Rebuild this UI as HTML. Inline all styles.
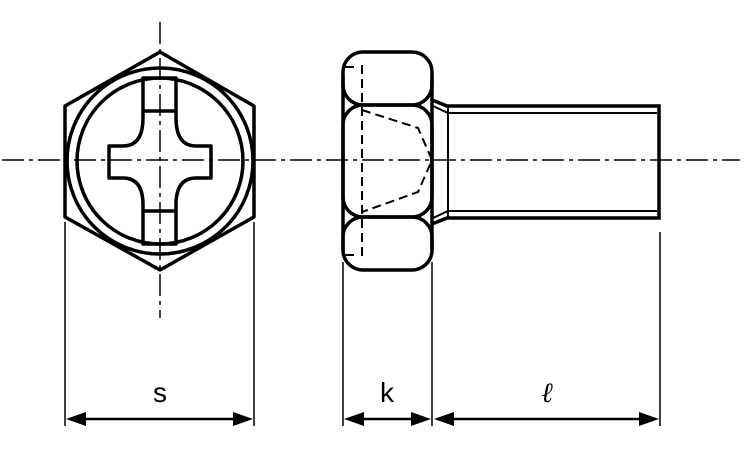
<!DOCTYPE html>
<html><head><style>body{margin:0;background:#fff}svg{display:block}</style></head><body>
<svg width="750" height="450" viewBox="0 0 750 450" xmlns="http://www.w3.org/2000/svg" fill="none" stroke="#000">
<!-- center lines -->
<g stroke-width="1.5" stroke-dasharray="22,5,4,5">
<line x1="160" y1="22" x2="160" y2="318"/>
<line x1="2" y1="160" x2="740" y2="160"/>
</g>
<!-- left view -->
<g stroke-width="3.5" stroke-linejoin="round">
<polygon points="160,52 254,106 254,217 160,270 65,217 65,106"/>
<circle cx="160" cy="161" r="93"/>
<circle cx="160" cy="161" r="83"/>
<path d="M143,78 H176 V118 Q176,146 196,146 H211 V178 H196 Q176,178 176,205 V244 H143 V205 Q143,178 123,178 H109 V146 H123 Q143,146 143,118 Z"/>
<line x1="143" y1="111" x2="176" y2="111"/>
<line x1="143" y1="211" x2="176" y2="211"/>
</g>
<!-- right view head -->
<g stroke-width="3.5">
<rect x="343" y="52" width="89" height="53" rx="20"/>
<rect x="343" y="105" width="89" height="112" rx="20"/>
<rect x="343" y="217" width="89" height="53" rx="20"/>
<line x1="343" y1="75" x2="343" y2="250"/>
<line x1="432" y1="75" x2="432" y2="250"/>
<path d="M432,100 L447,106 L659,106 L659,218 L447,218 L432,224"/>
</g>
<g stroke-width="2">
<line x1="448" y1="106" x2="448" y2="218"/>
<line x1="448" y1="113" x2="657" y2="113"/>
<line x1="448" y1="211" x2="657" y2="211"/>
<line x1="433" y1="106" x2="448" y2="113"/>
<line x1="433" y1="218" x2="448" y2="211"/>
</g>
<g stroke-width="2" stroke-dasharray="9,5">
<line x1="362" y1="65" x2="362" y2="258"/>
<polyline points="362,110 418,128 432,160 418,192 362,212"/>
<line x1="345" y1="67" x2="358" y2="67"/>
<line x1="345" y1="255" x2="358" y2="255"/>
</g>
<!-- dimensions -->
<g stroke-width="1.5">
<line x1="65" y1="222" x2="65" y2="426"/>
<line x1="254" y1="222" x2="254" y2="426"/>
<line x1="343" y1="262" x2="343" y2="426"/>
<line x1="432" y1="262" x2="432" y2="426"/>
<line x1="660" y1="232" x2="660" y2="426"/>
</g>
<g stroke-width="2.5">
<line x1="80" y1="419" x2="240" y2="419"/>
<line x1="358" y1="419" x2="418" y2="419"/>
<line x1="448" y1="419" x2="645" y2="419"/>
</g>
<g fill="#000" stroke="none">
<polygon points="66,419 86,412 86,426"/><polygon points="253,419 233,412 233,426"/>
<polygon points="344,419 364,412 364,426"/><polygon points="431,419 411,412 411,426"/>
<polygon points="434,419 454,412 454,426"/><polygon points="659,419 639,412 639,426"/>
<text x="160" y="402" font-family="Liberation Sans, sans-serif" font-size="28" text-anchor="middle">s</text>
<text x="387" y="402" font-family="Liberation Sans, sans-serif" font-size="28" text-anchor="middle">k</text>
<text x="547" y="402" font-family="Liberation Serif, serif" font-size="28" font-style="italic" text-anchor="middle">ℓ</text>
</g>
</svg>
</body></html>
